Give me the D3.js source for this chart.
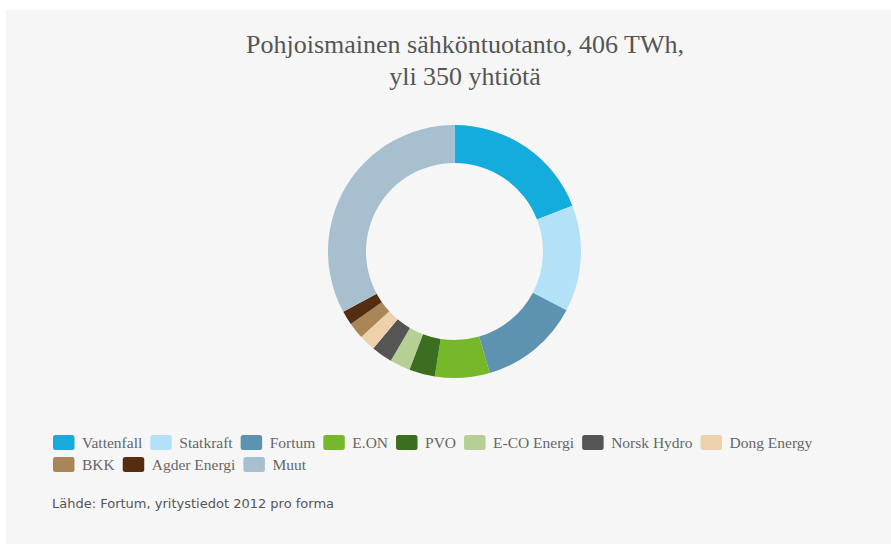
<!DOCTYPE html>
<html>
<head>
<meta charset="utf-8">
<script src="https://cdn.jsdelivr.net/npm/d3@7"></script>
<style>
  body { margin: 0; background: #fff; }
  svg { display: block; }
</style>
</head>
<body>
<svg width="891" height="544"></svg>
<script>
// osuudet prosentteina (luettu kuvasta)
var companies = ['Vattenfall', 'Statkraft', 'Fortum', 'E.ON', 'PVO', 'E-CO Energi', 'Norsk Hydro', 'Dong Energy', 'BKK', 'Agder Energi', 'Muut'];
var shares = [19.1, 13.6, 12.8, 7.0, 3.3, 2.6, 2.7, 2.1, 2.1, 1.8, 32.9];
var colors = ['#13acdd', '#b3e1f8', '#5d92b1', '#77b82a', '#3b6e1f', '#b6cf95', '#555555', '#ecd1ab', '#aa8556', '#552e12', '#a8bfd0'];
var titleLines = ['Pohjoismainen sähköntuotanto, 406 TWh,', 'yli 350 yhtiötä'];
var source = 'Lähde: Fortum, yritystiedot 2012 pro forma';

var svg = d3.select('svg');
var color = d3.scaleOrdinal().domain(companies).range(colors);

svg.append('rect')
    .attr('x', 6).attr('y', 10)
    .attr('width', 891).attr('height', 544)
    .attr('fill', '#f6f6f6');

// otsikko
svg.append('g').selectAll('text').data(titleLines).enter()
    .append('text')
    .attr('x', 465)
    .attr('y', function (d, i) { return 53 + i * 32; })
    .attr('text-anchor', 'middle')
    .attr('font-family', '"Liberation Serif", serif')
    .attr('font-size', 26)
    .attr('fill', '#555')
    .text(function (d) { return d; });

/* ----------- DONUT ----------- */
var data = companies.map(function (c, i) { return { name: c, value: shares[i] }; });
var pie = d3.pie().sort(null).value(function (d) { return d.value; });
var arc = d3.arc().innerRadius(88.5).outerRadius(126.5);

svg.append('g')
    .attr('transform', 'translate(454.5,251.5)')
    .selectAll('path').data(pie(data)).enter()
    .append('path')
    .attr('d', arc)
    .attr('fill', function (d) { return color(d.data.name); });

/* ----------- LEGEND ----------- */
var legend = svg.append('g').attr('class', 'legend');
var lx = 53, ly = 435, maxX = 845;
companies.forEach(function (c) {
    var g = legend.append('g');
    g.append('rect')
        .attr('width', 21.5).attr('height', 15)
        .attr('rx', 2.5)
        .attr('fill', color(c));
    var t = g.append('text')
        .attr('x', 29).attr('y', 13)
        .attr('font-family', '"Liberation Serif", serif')
        .attr('font-size', 15.5)
        .attr('fill', '#666')
        .text(c);
    var w = 29 + t.node().getComputedTextLength();
    if (lx + w > maxX) { lx = 53; ly += 22; }
    g.attr('transform', 'translate(' + lx + ',' + ly + ')');
    lx += w + 8;
});

svg.append('text')
    .attr('x', 52).attr('y', 508)
    .attr('font-family', '"DejaVu Sans", sans-serif')
    .attr('font-size', 13)
    .attr('fill', '#555')
    .text(source);
</script>
</body>
</html>
